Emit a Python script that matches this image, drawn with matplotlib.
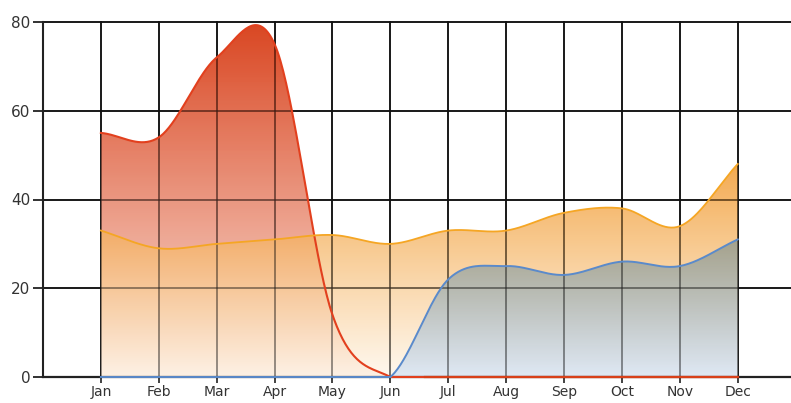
import matplotlib
matplotlib.use("Agg")
import matplotlib.pyplot as plt
import numpy as np
from matplotlib.patches import Polygon

months = ["Jan", "Feb", "Mar", "Apr", "May", "Jun", "Jul", "Aug", "Sep", "Oct", "Nov", "Dec"]
red_vals = [55, 54, 72, 75, 14, 0, 0, 0, 0, 0, 0, 0]
orange_vals = [33, 29, 30, 31, 32, 30, 33, 33, 37, 38, 34, 48]
blue_vals = [0, 0, 0, 0, 0, 0, 22, 25, 23, 26, 25, 31]
yticks = [0, 20, 40, 60, 80]


def smooth(vals, n=40):
    """catmull-rom through the monthly points -> dense x, y."""
    v = np.asarray(vals, float)
    m = np.gradient(v)
    xs, ys = [], []
    for i in range(len(v) - 1):
        t = np.linspace(0, 1, n, endpoint=False)
        h00 = 2 * t**3 - 3 * t**2 + 1; h10 = t**3 - 2 * t**2 + t
        h01 = -2 * t**3 + 3 * t**2; h11 = t**3 - t**2
        xs.append(i + t); ys.append(h00 * v[i] + h10 * m[i] + h01 * v[i + 1] + h11 * m[i + 1])
    xs.append([len(v) - 1]); ys.append([v[-1]])
    return np.concatenate(xs), np.concatenate(ys)


def grad_fill(ax, x, y, top, bot, a_top, a_bot, ymax, z):
    verts = np.column_stack([np.r_[x[0], x, x[-1]], np.r_[0, np.clip(y, 0, None), 0]])
    poly = Polygon(verts, closed=True, fc="none", ec="none")
    ax.add_patch(poly)
    t = np.linspace(0, 1, 256)[:, None]
    img = np.zeros((256, 1, 4))
    top = np.array(matplotlib.colors.to_rgb(top)); bot = np.array(matplotlib.colors.to_rgb(bot))
    img[..., :3] = (bot + (top - bot) * t)[:, None, :]
    img[..., 3] = a_bot + (a_top - a_bot) * t
    im = ax.imshow(img, extent=[x[0], x[-1], 0, ymax], origin="lower", aspect="auto",
                   zorder=z, interpolation="bilinear")
    im.set_clip_path(poly)


def grid(ax, z, alpha):
    for yv in yticks[1:]:
        ax.axhline(yv, color="#111111", lw=1.3, zorder=z, alpha=alpha, clip_on=False)
    for i in range(len(months)):
        ax.plot([i, i], [0, 80], color="#111111", lw=1.3, zorder=z, alpha=alpha, clip_on=False)


fig = plt.figure(figsize=(7.91, 4.03), dpi=100)
ax = fig.add_axes([43 / 791, 1 - 377 / 403, 1 - 43 / 791, (377 - 22) / 403])

grid(ax, 0.5, 1.0)

rx, ry = smooth(red_vals)
ox, oy = smooth(orange_vals)
bx, by = smooth(blue_vals)

sel = rx <= 5                                   # red area stops at Jun
grad_fill(ax, rx[sel], ry[sel], "#d42a00", "#fbe2d8", 0.87, 0.85, 80, 1)
grad_fill(ax, ox, oy, "#f0901a", "#fff6e8", 0.76, 0.7, 48, 2)
sel = bx >= 5
grad_fill(ax, bx[sel], by[sel], "#85938c", "#dae6f6", 0.72, 0.85, 31, 3)

grid(ax, 4, 0.45)                               # lines still show through the areas

ax.plot(rx, np.clip(ry, 0, None), color="#e2401e", lw=1.5, zorder=5, clip_on=False)
ax.plot(ox, oy, color="#f5a624", lw=1.3, zorder=5)
ax.plot(bx, np.clip(by, 0, None), color="#5a8acb", lw=1.4, zorder=5, clip_on=False)
ax.plot(rx[rx >= 5.6], ry[rx >= 5.6].clip(0), color="#d8401a", lw=1.6, zorder=6, clip_on=False)

ax.set_xlim(-1, 11.92)
ax.set_ylim(0, 80)
ax.set_xticks(range(len(months)))
ax.set_xticklabels(months, fontsize=10, color="#333333")
ax.set_yticks(yticks)
ax.set_yticklabels([str(v) for v in yticks], fontsize=11, color="#333333")
ax.tick_params(axis="y", length=7, width=1.3, color="#222222", pad=2)
ax.tick_params(axis="x", length=4, width=1.2, color="#222222", pad=2)
for s in ("top", "right"):
    ax.spines[s].set_visible(False)
ax.spines["left"].set_color("#222222"); ax.spines["left"].set_linewidth(1.5)
ax.spines["bottom"].set_color("#222222"); ax.spines["bottom"].set_linewidth(1.6)
ax.spines["left"].set_zorder(4); ax.spines["bottom"].set_zorder(4)

fig.savefig("out.png", dpi=100)
